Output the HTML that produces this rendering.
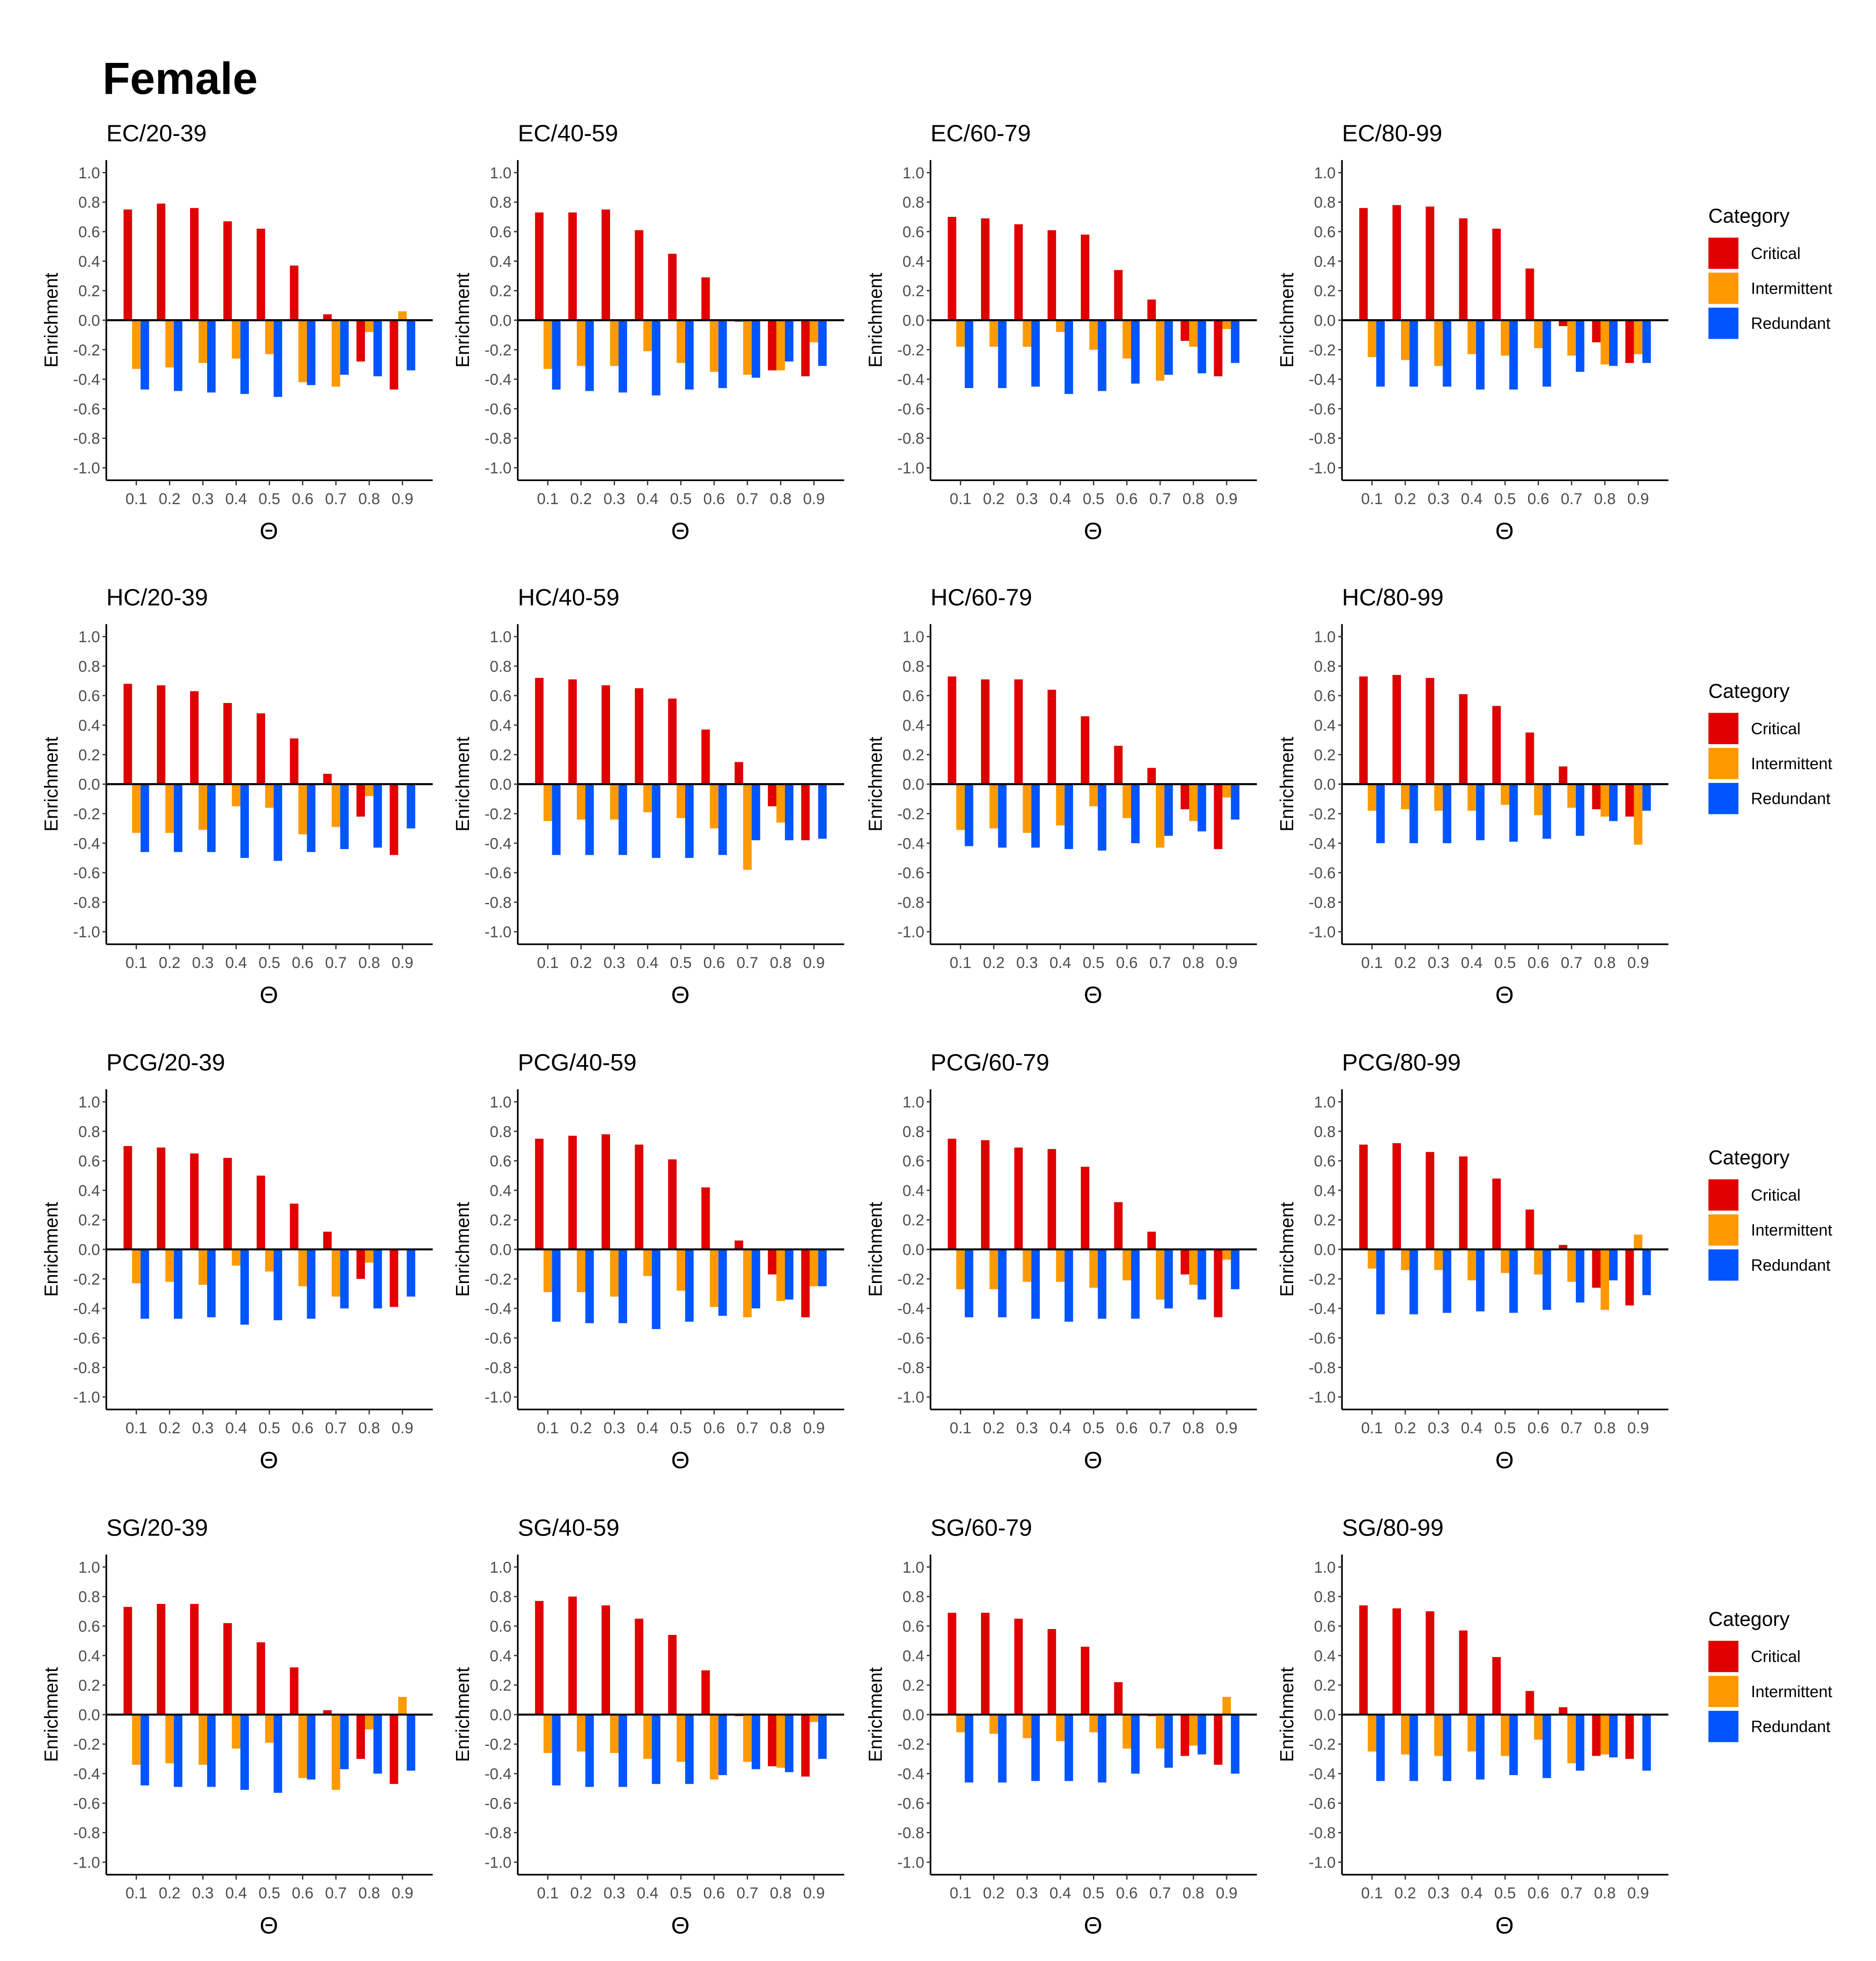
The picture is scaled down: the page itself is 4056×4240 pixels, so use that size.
<!DOCTYPE html>
<html><head><meta charset="utf-8"><style>
html,body{margin:0;padding:0;background:#fff}
svg{display:block}
text{font-family:"Liberation Sans",sans-serif}
</style></head><body>
<svg id="fig" width="4056" height="4240" viewBox="0 0 1500 1568" xmlns="http://www.w3.org/2000/svg">
<text x="82" y="75" font-size="36" font-weight="bold" fill="#000">Female</text>
</svg>
<script>
const thetaLabels = ["0.1","0.2","0.3","0.4","0.5","0.6","0.7","0.8","0.9"];
const yTicks = [1.0,0.8,0.6,0.4,0.2,0.0,-0.2,-0.4,-0.6,-0.8,-1.0];
const panelTitles = [
 "EC/20-39","EC/40-59","EC/60-79","EC/80-99",
 "HC/20-39","HC/40-59","HC/60-79","HC/80-99",
 "PCG/20-39","PCG/40-59","PCG/60-79","PCG/80-99",
 "SG/20-39","SG/40-59","SG/60-79","SG/80-99"];
const criticalValues = [
 [.75,.79,.76,.67,.62,.37,.04,-.28,-.47],
 [.73,.73,.75,.61,.45,.29,-.01,-.34,-.38],
 [.70,.69,.65,.61,.58,.34,.14,-.14,-.38],
 [.76,.78,.77,.69,.62,.35,-.04,-.15,-.29],
 [.68,.67,.63,.55,.48,.31,.07,-.22,-.48],
 [.72,.71,.67,.65,.58,.37,.15,-.15,-.38],
 [.73,.71,.71,.64,.46,.26,.11,-.17,-.44],
 [.73,.74,.72,.61,.53,.35,.12,-.17,-.22],
 [.70,.69,.65,.62,.50,.31,.12,-.20,-.39],
 [.75,.77,.78,.71,.61,.42,.06,-.17,-.46],
 [.75,.74,.69,.68,.56,.32,.12,-.17,-.46],
 [.71,.72,.66,.63,.48,.27,.03,-.26,-.38],
 [.73,.75,.75,.62,.49,.32,.03,-.30,-.47],
 [.77,.80,.74,.65,.54,.30,-.01,-.35,-.42],
 [.69,.69,.65,.58,.46,.22,-.01,-.28,-.34],
 [.74,.72,.70,.57,.39,.16,.05,-.28,-.30]];
const intermittentValues = [
 [-.33,-.32,-.29,-.26,-.23,-.42,-.45,-.08,.06],
 [-.33,-.31,-.31,-.21,-.29,-.35,-.37,-.34,-.15],
 [-.18,-.18,-.18,-.08,-.20,-.26,-.41,-.18,-.06],
 [-.25,-.27,-.31,-.23,-.24,-.19,-.24,-.30,-.23],
 [-.33,-.33,-.31,-.15,-.16,-.34,-.29,-.08,0],
 [-.25,-.24,-.24,-.19,-.23,-.30,-.58,-.26,0],
 [-.31,-.30,-.33,-.28,-.15,-.23,-.43,-.25,-.09],
 [-.18,-.17,-.18,-.18,-.14,-.21,-.16,-.22,-.41],
 [-.23,-.22,-.24,-.11,-.15,-.25,-.32,-.09,0],
 [-.29,-.29,-.32,-.18,-.28,-.39,-.46,-.35,-.25],
 [-.27,-.27,-.22,-.22,-.26,-.21,-.34,-.24,-.07],
 [-.13,-.14,-.14,-.21,-.16,-.17,-.22,-.41,.10],
 [-.34,-.33,-.34,-.23,-.19,-.43,-.51,-.10,.12],
 [-.26,-.25,-.26,-.30,-.32,-.44,-.32,-.36,-.05],
 [-.12,-.13,-.16,-.18,-.12,-.23,-.23,-.21,.12],
 [-.25,-.27,-.28,-.25,-.28,-.17,-.33,-.27,0]];
const redundantValues = [
 [-.47,-.48,-.49,-.50,-.52,-.44,-.37,-.38,-.34],
 [-.47,-.48,-.49,-.51,-.47,-.46,-.39,-.28,-.31],
 [-.46,-.46,-.45,-.50,-.48,-.43,-.37,-.36,-.29],
 [-.45,-.45,-.45,-.47,-.47,-.45,-.35,-.31,-.29],
 [-.46,-.46,-.46,-.50,-.52,-.46,-.44,-.43,-.30],
 [-.48,-.48,-.48,-.50,-.50,-.48,-.38,-.38,-.37],
 [-.42,-.43,-.43,-.44,-.45,-.40,-.35,-.32,-.24],
 [-.40,-.40,-.40,-.38,-.39,-.37,-.35,-.25,-.18],
 [-.47,-.47,-.46,-.51,-.48,-.47,-.40,-.40,-.32],
 [-.49,-.50,-.50,-.54,-.49,-.45,-.40,-.34,-.25],
 [-.46,-.46,-.47,-.49,-.47,-.47,-.40,-.34,-.27],
 [-.44,-.44,-.43,-.42,-.43,-.41,-.36,-.21,-.31],
 [-.48,-.49,-.49,-.51,-.53,-.44,-.37,-.40,-.38],
 [-.48,-.49,-.49,-.47,-.47,-.41,-.37,-.39,-.30],
 [-.46,-.46,-.45,-.45,-.46,-.40,-.36,-.27,-.40],
 [-.45,-.45,-.45,-.44,-.41,-.43,-.38,-.29,-.38]];
const categories = ["Critical","Intermittent","Redundant"];
const catColors = ["#e00000","#ff9900","#0055ff"];

const NS = "http://www.w3.org/2000/svg";
const svg = document.getElementById("fig");
function mk(tag, attrs, parent, txt){
  const e = document.createElementNS(NS, tag);
  for (const k in attrs) e.setAttribute(k, attrs[k]);
  if (txt !== undefined) e.textContent = txt;
  (parent || svg).appendChild(e);
  return e;
}
const colX = [85, 414, 744, 1073];
const rowOff = [0, 371, 743, 1115];
const legendY = [172, 552, 925, 1294];
const seriesAll = [criticalValues, intermittentValues, redundantValues];
const W = 261, BW = 6.8;

for (let p = 0; p < panelTitles.length; p++) {
  const x0 = colX[p % 4], off = rowOff[Math.floor(p / 4)];
  const yS = v => off + 256 - v * 118;
  const xS = i => x0 + 24 + i * 26.6;
  const g = mk("g", {});
  
  
  const t = mk("text", {x: x0, y: off + 113, "font-size": 19, fill: "#000"}, g, panelTitles[p]);
  
  
  // bars
  for (let s = 0; s < 3; s++) {
    const vals = seriesAll[s][p];
    for (let i = 0; i < vals.length; i++) {
      const v = vals[i];
      const cx = xS(i) + (s - 1) * BW;
      const r = mk("rect", {x: cx - BW / 2, y: Math.min(yS(v), yS(0)), width: BW,
        height: Math.abs(yS(v) - yS(0)), fill: catColors[s]}, g);
      
      
    }
  }
  // zero line
  mk("line", {x1: x0, x2: x0 + W, y1: yS(0), y2: yS(0), stroke: "#000", "stroke-width": 1.6}, g);
  // axes
  const ya = mk("line", {x1: x0, x2: x0, y1: off + 128, y2: off + 384, stroke: "#000", "stroke-width": 1.3}, g);
  
  
  const xa = mk("line", {x1: x0, x2: x0 + W, y1: off + 384, y2: off + 384, stroke: "#000", "stroke-width": 1.3}, g);
  
  
  for (const v of yTicks) {
    mk("line", {x1: x0 - 3, x2: x0, y1: yS(v), y2: yS(v), stroke: "#333", "stroke-width": 1}, g);
    const tl = mk("text", {x: x0 - 5, y: yS(v) + 4.5, "font-size": 12.5, fill: "#4d4d4d", "text-anchor": "end"}, g, v.toFixed(1));
    
    
  }
  for (let i = 0; i < thetaLabels.length; i++) {
    mk("line", {x1: xS(i), x2: xS(i), y1: off + 384, y2: off + 388, stroke: "#333", "stroke-width": 1}, g);
    const tl = mk("text", {x: xS(i), y: off + 403, "font-size": 12.5, fill: "#4d4d4d", "text-anchor": "middle"}, g, thetaLabels[i]);
    
    
  }
  const yt = mk("text", {x: 0, y: 0, "font-size": 15, fill: "#000", "text-anchor": "middle",
    transform: `translate(${x0 - 39},${off + 256}) rotate(-90)`}, g, "Enrichment");
  
  
  const xt = mk("text", {x: x0 + 130, y: off + 431, "font-size": 19, fill: "#000", "text-anchor": "middle"}, g, "Θ");
  
  
}

for (let r = 0; r < 4; r++) {
  const ly = legendY[r];
  const lg = mk("g", {});
  
  
  mk("text", {x: 1366, y: ly + 6, "font-size": 16, fill: "#000"}, lg, "Category");
  for (let s = 0; s < 3; s++) {
    const eg = mk("g", {}, lg);
    
    
    mk("rect", {x: 1366, y: ly + 18 + s * 28, width: 24, height: 25, fill: catColors[s]}, eg);
    mk("text", {x: 1400, y: ly + 35 + s * 28, "font-size": 13, fill: "#000"}, eg, categories[s]);
  }
}
</script>
</body></html>
